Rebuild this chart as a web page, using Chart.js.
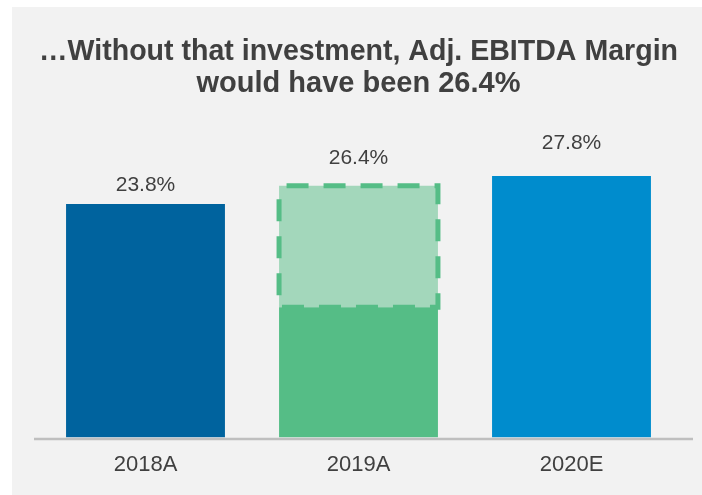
<!DOCTYPE html>
<html>
<head>
<meta charset="utf-8">
<script src="https://cdn.jsdelivr.net/npm/chart.js@4/dist/chart.umd.min.js"></script>
<style>
  html, body { margin: 0; padding: 0; background: #ffffff; }
  .panel {
    position: absolute;
    left: 12px;
    top: 7px;
    width: 690px;
    height: 488px;
    background: #f2f2f2;
  }
  canvas { display: block; }
</style>
</head>
<body>
<div class="panel"><canvas id="marginChart" width="690" height="488"></canvas></div>
<script>
const categories = ["2018A", "2019A", "2020E"];
// bar tops on the value axis (axis does not start at zero in the original)
const reportedMargin = [23.8, 9.0, 27.8];
const adjustedMargin = [null, 26.4, null];
const labelValues = [23.8, 26.4, 27.8];

const AXIS_MIN = -9.63;
const AXIS_MAX = 33.83;
const barColors = ["#00639e", "#55bd86", "#008ccd"];

const textColor = "#404040";
const fontFamily = "'Liberation Sans', Arial, sans-serif";

// dashed outline round the "without investment" part + the value labels
const marginLabels = {
  id: "marginLabels",
  afterDatasetsDraw(chart) {
    const ctx = chart.ctx;
    const area = chart.chartArea;

    // x axis line, a bit wider than the plot area like the original
    ctx.save();
    ctx.strokeStyle = "#bfbfbf";
    ctx.lineWidth = 2.5;
    ctx.beginPath();
    ctx.moveTo(area.left - 5, area.bottom + 1.5);
    ctx.lineTo(area.right + 15, area.bottom + 1.5);
    ctx.stroke();
    ctx.restore();

    const adjMeta = chart.getDatasetMeta(1);
    adjMeta.data.forEach((bar, i) => {
      if (adjustedMargin[i] == null) return;
      const p = bar.getProps(["x", "y", "base", "width"], true);
      const left = p.x - p.width / 2;
      ctx.save();
      ctx.strokeStyle = "#55bd86";
      ctx.lineWidth = 5;
      ctx.setLineDash([22, 15]);
      ctx.lineDashOffset = 29.5;
      ctx.strokeRect(left, p.y, p.width, p.base - p.y);
      ctx.restore();
    });

    const labelScale = chart.scales.yLabel;
    const meta = chart.getDatasetMeta(0);
    ctx.save();
    ctx.fillStyle = textColor;
    ctx.font = "21px " + fontFamily;
    ctx.textAlign = "center";
    ctx.textBaseline = "middle";
    meta.data.forEach((bar, i) => {
      const y = labelScale.getPixelForValue(labelValues[i]) - 3;
      ctx.fillText(labelValues[i].toFixed(1) + "%", bar.x, y);
    });
    ctx.restore();
  },
};

const ctx = document.getElementById("marginChart").getContext("2d");

new Chart(ctx, {
  type: "bar",
  data: {
    labels: categories,
    datasets: [
      {
        label: "Adj. EBITDA Margin",
        data: reportedMargin.map((v) => [AXIS_MIN, v]),
        backgroundColor: barColors,
        borderWidth: 0,
        grouped: false,
        barPercentage: 1,
        categoryPercentage: 0.746,
      },
      {
        label: "Without investment",
        data: adjustedMargin.map((v, i) => (v == null ? null : [reportedMargin[i], v])),
        backgroundColor: "#a3d7bb",
        borderWidth: 0,
        grouped: false,
        barPercentage: 1,
        categoryPercentage: 0.746,
      },
    ],
  },
  options: {
    responsive: false,
    animation: false,
    layout: { padding: { left: 27, right: 24, top: 0, bottom: 3 } },
    plugins: {
      legend: { display: false },
      tooltip: { enabled: false },
      title: {
        display: true,
        text: ["\u2026Without that investment, Adj. EBITDA Margin", "would have been 26.4%"],
        color: textColor,
        font: { family: fontFamily, size: 29, weight: "bold", lineHeight: 1.1 },
        padding: { top: 29, bottom: 34 },
      },
    },
    scales: {
      x: {
        grid: { display: false, drawTicks: false },
        border: { display: false },
        ticks: {
          color: textColor,
          font: { family: fontFamily, size: 22 },
          padding: 14,
        },
      },
      y: {
        display: false,
        min: AXIS_MIN,
        max: AXIS_MAX,
      },
      yLabel: {
        type: "linear",
        display: false,
        position: "left",
        min: 0,
        max: 28.97,
      },
    },
  },
  plugins: [marginLabels],
});
</script>
</body>
</html>
